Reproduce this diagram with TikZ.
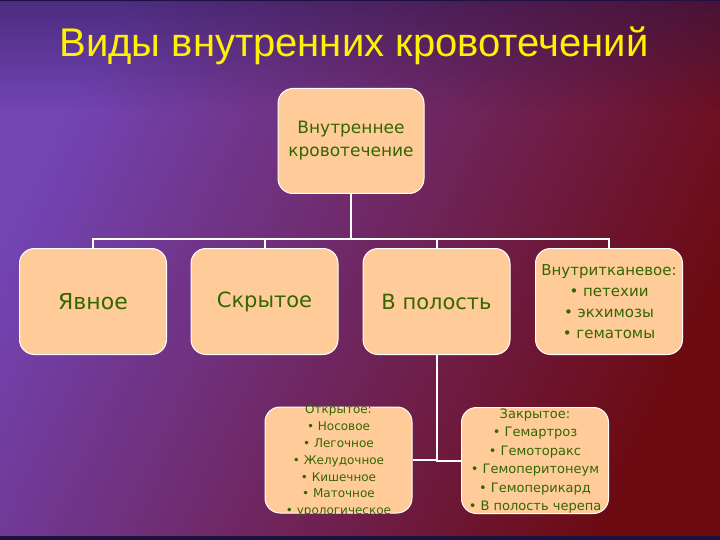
\documentclass[tikz,border=0pt]{standalone}
\usepackage{fontspec}
\setmainfont{DejaVu Sans}
\newfontfamily\titlefont{Liberation Sans}
\usepackage{tikz}
\usetikzlibrary{positioning, fadings}
\definecolor{peach}{HTML}{FFCC99}
\definecolor{leafgreen}{HTML}{336600}
\definecolor{slidepurple}{HTML}{7244B4}
\definecolor{slidemid}{HTML}{6E2466}
\definecolor{slidered}{HTML}{6C0A10}
\definecolor{slideedge}{HTML}{1E1040}

\begin{document}
\begin{tikzpicture}[x=1pt, y=-1pt,
    box/.style={draw=white, line width=1pt, fill=peach, rounded corners=15pt,
        minimum width=147pt, minimum height=106pt, inner sep=2pt,
        align=center, text=leafgreen},
    wire/.style={draw=white, line width=2pt}]
    \useasboundingbox (0,0) rectangle (720,540);
    \shade[shading=axis, top color=slidepurple, middle color=slidemid,
        bottom color=slidered, shading angle=65] (0,0) rectangle (720,540);
    \fill[slideedge, fill opacity=0.45, path fading=south] (0,0) rectangle (720,110);
    \fill[slideedge] (0,0) rectangle (720,1.5);
    \fill[slideedge] (0,536) rectangle (720,540);

    \node[text=yellow, font=\titlefont\fontsize{40}{48}\selectfont] (title)
        at (354,46) {Виды внутренних кровотечений};

    % top of the tree
    \node[box, minimum width=146pt, minimum height=105pt,
        font=\fontsize{17}{23}\selectfont] (inner) at (351,141)
        {Внутреннее\\кровотечение};

    \node[box, font=\fontsize{22}{25}\selectfont] (yavnoe) at (93,301.5) {Явное};
    \node[box, font=\fontsize{21}{25}\selectfont] (skrytoe) at (264.5,301.5) {Скрытое};
    \node[box, font=\fontsize{21}{25}\selectfont] (polost) at (436.5,301.5) {В полость};
    \node[box, font=\fontsize{15}{21}\selectfont] (tkan) at (609,301.5)
        {Внутритканевое:\\• петехии\\• экхимозы\\• гематомы};

    % lower boxes, text runs over the edge
    \node[box] (otkr) at (338.5,460) {};
    \node[text=leafgreen, align=center, font=\fontsize{12}{16.8}\selectfont]
        (otkrlist) at (338.5,461) {Открытое:\\• Носовое\\• Легочное\\• Желудочное\\• Кишечное\\• Маточное\\• урологическое};
    \node[box] (zakr) at (535,460.5) {};
    \node[text=leafgreen, align=center, font=\fontsize{13}{18.4}\selectfont]
        (zakrlist) at (535,461) {Закрытое:\\• Гемартроз\\• Гемоторакс\\• Гемоперитонеум\\• Гемоперикард\\• В полость черепа};

    \coordinate (bus) at (351,239);
    \draw[wire] (inner) -- (bus);
    \foreach \n in {yavnoe, skrytoe, polost, tkan}
        \draw[wire] (\n.north) |- (bus);
    \draw[wire] (polost.south) |- (otkr.east);
    \draw[wire] (polost.south) |- (zakr.west);
\end{tikzpicture}
\end{document}
